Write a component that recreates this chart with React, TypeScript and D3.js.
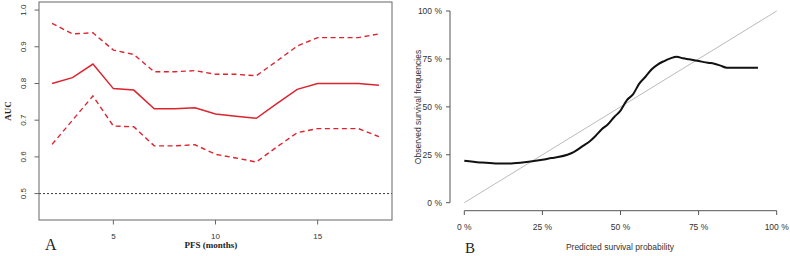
import React from "react";
import * as d3 from "d3";

const months = [2, 3, 4, 5, 6, 7, 8, 9, 10, 11, 12, 13, 14, 15, 16, 17, 18];
const aucMain = [0.8, 0.816, 0.853, 0.786, 0.782, 0.731, 0.731, 0.734, 0.717, 0.711, 0.705, 0.745, 0.784, 0.8, 0.8, 0.8, 0.795];
const aucUpper = [0.964, 0.935, 0.938, 0.891, 0.879, 0.832, 0.832, 0.835, 0.825, 0.825, 0.821, 0.861, 0.902, 0.925, 0.925, 0.925, 0.935];
const aucLower = [0.634, 0.7, 0.766, 0.684, 0.682, 0.63, 0.63, 0.633, 0.607, 0.597, 0.586, 0.627, 0.666, 0.677, 0.677, 0.677, 0.655];
const aTicksX = [5, 10, 15];
const aTicksY = [0.5, 0.6, 0.7, 0.8, 0.9, 1.0];

const predicted = [0, 5, 10, 15, 20, 25, 28, 30, 33, 35, 38, 40, 42, 44, 46, 48, 50, 52, 54, 56, 58, 60, 62, 64, 66, 68, 70, 72, 75, 78, 80, 82, 84, 88, 94];
const observed = [21.9, 21.0, 20.5, 20.5, 21.2, 22.4, 23.3, 23.8, 25, 26.4, 29.6, 31.8, 34.8, 38.3, 40.9, 44.7, 48, 53.4, 56.5, 62.1, 65.7, 69.6, 72.2, 73.9, 75.3, 76.2, 75.3, 74.8, 73.9, 73, 72.5, 71.5, 70.4, 70.4, 70.4];
const bTicks = [0, 25, 50, 75, 100];

const RED = "#dc2430";
const SANS = "'Liberation Sans', Arial, sans-serif";
const SERIF = "'Liberation Serif', 'Times New Roman', serif";

export default function App() {
  // Panel A
  const ax = d3.scaleLinear().domain([1.36, 18.64]).range([39, 392]);
  const ay = d3.scaleLinear().domain([0.428, 1.022]).range([220, 2]);
  const lineA = (vals: number[]) =>
    d3.line<number>().x((_, i) => ax(months[i])).y((v) => ay(v))(vals) || "";

  // Panel B
  const bx = d3.scaleLinear().domain([0, 100]).range([464.3, 776.7]);
  const by = d3.scaleLinear().domain([0, 100]).range([202.7, 11]);
  const lineB =
    d3.line<number>().x((_, i) => bx(predicted[i])).y((v) => by(v)).curve(d3.curveMonotoneX)(observed) || "";

  return (
    <svg width={790} height={256} style={{ position: "fixed", left: 0, top: 0, background: "#fff" }}>
      <rect x={0} y={0} width={790} height={256} fill="#fff" />
      {/* Panel A */}
      <g>
        <line x1={39} x2={392} y1={ay(0.5)} y2={ay(0.5)} stroke="#222" strokeWidth={0.9} strokeDasharray="2,2" />
        <path d={lineA(aucUpper)} fill="none" stroke={RED} strokeWidth={1.4} strokeDasharray="5,3.5" />
        <path d={lineA(aucLower)} fill="none" stroke={RED} strokeWidth={1.4} strokeDasharray="5,3.5" />
        <path d={lineA(aucMain)} fill="none" stroke={RED} strokeWidth={1.5} />
        <rect x={39} y={2} width={353} height={218} fill="none" stroke="#666" strokeWidth={1} />
        {aTicksY.map((t) => (
          <g key={"ay" + t}>
            <line x1={34.5} x2={39} y1={ay(t)} y2={ay(t)} stroke="#666" />
            <text
              transform={`translate(${26},${ay(t)}) rotate(-90)`}
              textAnchor="middle"
              fontFamily={SANS}
              fontSize={8}
              fill="#333"
            >
              {t.toFixed(1)}
            </text>
          </g>
        ))}
        {aTicksX.map((t) => (
          <g key={"ax" + t}>
            <line x1={ax(t)} x2={ax(t)} y1={220} y2={224.5} stroke="#666" />
            <text x={ax(t)} y={239} textAnchor="middle" fontFamily={SANS} fontSize={8} fill="#333">
              {t}
            </text>
          </g>
        ))}
        <text x={211} y={248} textAnchor="middle" fontFamily={SERIF} fontWeight="bold" fontSize={9} fill="#222">
          PFS (months)
        </text>
        <text transform={`translate(${11},${111}) rotate(-90)`} textAnchor="middle" fontFamily={SERIF} fontWeight="bold" fontSize={9} fill="#222">
          AUC
        </text>
        <text x={45} y={250} fontFamily={SERIF} fontSize={16} fill="#222">
          A
        </text>
      </g>

      {/* Panel B */}
      <g>
        <line x1={bx(0)} y1={by(0)} x2={bx(100)} y2={by(100)} stroke="#bbb" strokeWidth={1} />
        <path d={lineB} fill="none" stroke="#111" strokeWidth={2} />
        <line x1={450} x2={450} y1={by(0)} y2={by(100)} stroke="#555" />
        {bTicks.map((t) => (
          <g key={"by" + t}>
            <line x1={446} x2={450} y1={by(t)} y2={by(t)} stroke="#555" />
            <text x={442} y={by(t) + 3} textAnchor="end" fontFamily={SANS} fontSize={8.5} fill="#333">
              {t} %
            </text>
          </g>
        ))}
        <line x1={bx(0)} x2={bx(100)} y1={210.7} y2={210.7} stroke="#555" />
        {bTicks.map((t) => (
          <g key={"bx" + t}>
            <line x1={bx(t)} x2={bx(t)} y1={210.7} y2={215} stroke="#555" />
            <text x={bx(t)} y={229.5} textAnchor="middle" fontFamily={SANS} fontSize={8.5} fill="#333">
              {t} %
            </text>
          </g>
        ))}
        <text x={620} y={249.5} textAnchor="middle" fontFamily={SANS} fontSize={8.5} fill="#333">
          Predicted survival probability
        </text>
        <text transform={`translate(${421},${107}) rotate(-90)`} textAnchor="middle" fontFamily={SANS} fontSize={8.5} fill="#333">
          Observed survival frequencies
        </text>
        <text x={465} y={252.5} fontFamily={SERIF} fontSize={15} fill="#222">
          B
        </text>
      </g>
    </svg>
  );
}
